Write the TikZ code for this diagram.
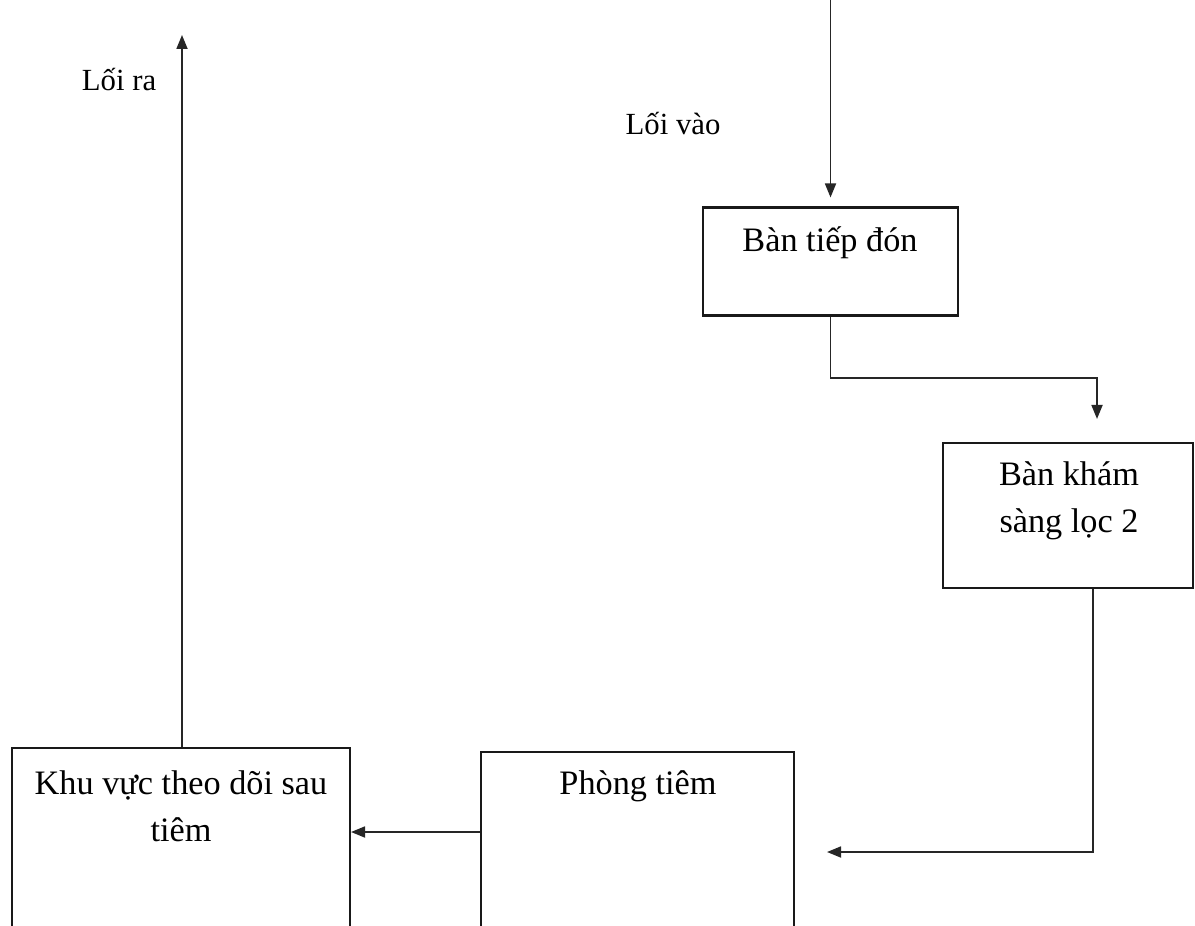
\documentclass[tikz,border=0pt]{standalone}
\usepackage{fontspec}
\setmainfont{Liberation Serif}
\usetikzlibrary{arrows.meta,calc}
\begin{document}
\begin{tikzpicture}[x=0.02cm,y=-0.02cm,
  box/.style={draw=black!90,line width=1.2pt,inner sep=0pt},
  boxtext/.style={align=center,font=\fontsize{19.5}{27}\selectfont,inner sep=0pt},
  lbl/.style={font=\fontsize{17.5}{20}\selectfont,inner sep=0pt},
  arr/.style={draw=black!85,line width=1pt,-{Triangle[length=0.28cm,width=0.22cm]}}]
\clip (0,0) rectangle (1195,925);
\fill[white] (0,0) rectangle (1195,925);
% boxes
\node[box,minimum width=5.1cm,minimum height=2.16cm] (b1) at (830.5,261.5) {};
\node[box,minimum width=5.0cm,minimum height=2.9cm] (b2) at (1068,515.5) {};
\node[box,minimum width=6.26cm,minimum height=4.8cm] (b3) at (637.5,872) {};
\node[box,minimum width=6.76cm,minimum height=4.8cm] (b4) at (181,868) {};
% texts
\node[boxtext] (t1) at (830,243) {Bàn tiếp đón};
\node[boxtext] (t2) at (1069,501) {Bàn khám\\sàng lọc 2};
\node[boxtext] (t3) at (638,786) {Phòng tiêm};
\node[boxtext] (t4) at (181,806) {Khu vực theo dõi sau\\tiêm};
\node[lbl] (lout) at (119,80) {Lối ra};
\node[lbl] (lin) at (673,124) {Lối vào};
% coordinates
\coordinate (entry) at (830.5,0);
\coordinate (exit) at (182,35);
\coordinate (c1) at (1097,378);
\coordinate (c3) at (1093,852);
\coordinate (c4) at (0,832);
% connectors
\draw[arr,shorten >=0.18cm] (entry) -- (b1.north);
\draw[arr,shorten >=0.46cm] (b1.south) |- (c1) -- (b2.north -| c1);
\draw[arr,shorten >=0.64cm] (b2.south -| c3) -- (c3) -- (b3.east |- c3);
\draw[arr] (b3.west |- c4) -- (b4.east |- c4);
\draw[arr] (b4.north -| exit) -- (exit);
\end{tikzpicture}
\end{document}
